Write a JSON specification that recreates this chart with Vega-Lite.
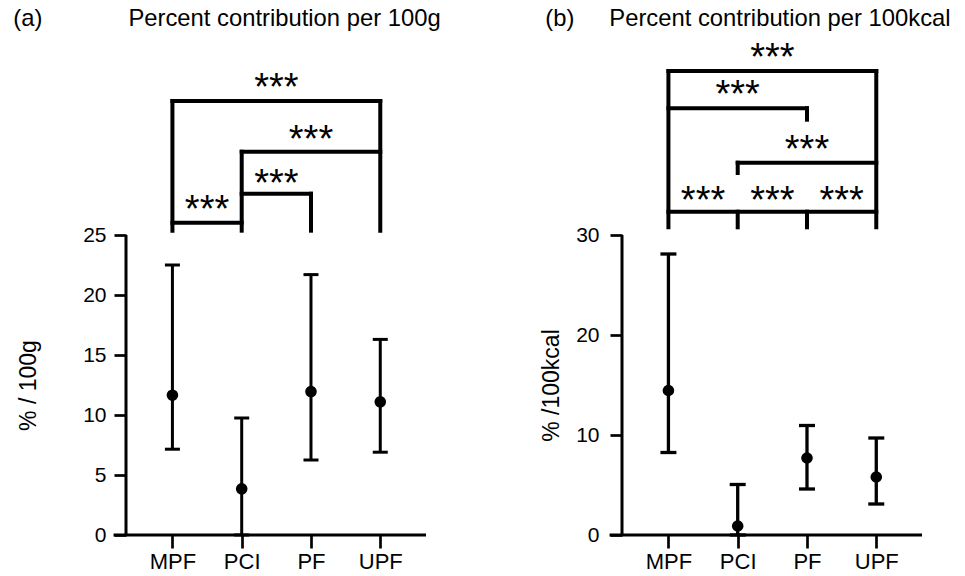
{
  "$schema": "https://vega.github.io/schema/vega-lite/v6.json",
  "padding": {"left": 13, "top": 6, "right": 5, "bottom": 5},
  "background": "white",
  "config": {
    "view": {"stroke": null},
    "font": "Liberation Sans",
    "axis": {"grid": false, "domain": false, "tickColor": "black", "tickWidth": 2.7, "tickOpacity": 1, "labelColor": "black", "labelFont": "Liberation Sans", "labelFontSize": 21, "titleColor": "black", "titleFont": "Liberation Sans", "titleFontSize": 23, "titleFontWeight": "normal"}
  },
  "datasets": {
    "a_err": [
      {"cat": "MPF", "x": 0, "mean": 11.65, "lo": 7.15, "hi": 22.5},
      {"cat": "PCI", "x": 1, "mean": 3.85, "lo": 0, "hi": 9.75},
      {"cat": "PF", "x": 2, "mean": 11.95, "lo": 6.25, "hi": 21.7},
      {"cat": "UPF", "x": 3, "mean": 11.1, "lo": 6.9, "hi": 16.3}
    ],
    "b_err": [
      {"cat": "MPF", "x": 0, "mean": 14.45, "lo": 8.25, "hi": 28.1},
      {"cat": "PCI", "x": 1, "mean": 0.9, "lo": 0, "hi": 5.05},
      {"cat": "PF", "x": 2, "mean": 7.7, "lo": 4.6, "hi": 10.95},
      {"cat": "UPF", "x": 3, "mean": 5.8, "lo": 3.1, "hi": 9.7}
    ],
    "a_br": [
      {"x": 0, "x2": 1, "y": 26.03, "y2": 26.03},
      {"x": 0, "x2": 0, "y": 25.36, "y2": 36.17},
      {"x": 1, "x2": 1, "y": 25.36, "y2": 31.94},
      {"x": 1, "x2": 2, "y": 28.44, "y2": 28.44},
      {"x": 2, "x2": 2, "y": 25.36, "y2": 28.44},
      {"x": 1, "x2": 3, "y": 31.94, "y2": 31.94},
      {"x": 3, "x2": 3, "y": 25.36, "y2": 36.17},
      {"x": 0, "x2": 3, "y": 36.17, "y2": 36.17}
    ],
    "b_br": [
      {"x": 0, "x2": 3, "y": 32.33, "y2": 32.33},
      {"x": 0, "x2": 0, "y": 30.77, "y2": 46.4},
      {"x": 1, "x2": 1, "y": 30.77, "y2": 32.33},
      {"x": 2, "x2": 2, "y": 30.77, "y2": 32.33},
      {"x": 3, "x2": 3, "y": 30.77, "y2": 46.4},
      {"x": 1, "x2": 1, "y": 36.2, "y2": 37.23},
      {"x": 1, "x2": 3, "y": 37.23, "y2": 37.23},
      {"x": 2, "x2": 2, "y": 41.53, "y2": 42.67},
      {"x": 0, "x2": 2, "y": 42.67, "y2": 42.67},
      {"x": 0, "x2": 3, "y": 46.4, "y2": 46.4}
    ],
    "a_axes": [
      {"x": -0.67, "x2": -0.67, "y": 0, "y2": 25},
      {"x": -0.85, "x2": 3.66, "y": 0, "y2": 0}
    ],
    "b_axes": [
      {"x": -0.67, "x2": -0.67, "y": 0, "y2": 30},
      {"x": -0.85, "x2": 3.66, "y": 0, "y2": 0}
    ],
    "a_stars": [
      {"x": 0.5, "y": 27.56, "label": "***"},
      {"x": 1.5, "y": 29.78, "label": "***"},
      {"x": 2, "y": 33.44, "label": "***"},
      {"x": 1.5, "y": 37.75, "label": "***"}
    ],
    "b_stars": [
      {"x": 0.5, "y": 34.0, "label": "***"},
      {"x": 1.5, "y": 34.0, "label": "***"},
      {"x": 2.5, "y": 34.0, "label": "***"},
      {"x": 2, "y": 39.07, "label": "***"},
      {"x": 1, "y": 44.57, "label": "***"},
      {"x": 1.5, "y": 48.33, "label": "***"}
    ],
    "a_titles": [
      {"x": -2.087, "y": 42.42, "label": "(a)"},
      {"x": 1.618, "y": 42.42, "label": "Percent contribution per 100g"}
    ],
    "b_titles": [
      {"x": -1.568, "y": 50.9, "label": "(b)"},
      {"x": 1.61, "y": 50.9, "label": "Percent contribution per 100kcal"}
    ]
  },
  "hconcat": [
    {
      "width": 300,
      "height": 500,
      "layer": [
        {
          "data": {"name": "a_br"},
          "mark": {"type": "rule", "color": "black", "strokeWidth": 4, "strokeCap": "square"},
          "encoding": {
            "x": {"field": "x", "type": "quantitative", "scale": {"domain": [-0.67, 3.66], "nice": false, "zero": false},
              "axis": {"values": [0, 1, 2, 3], "labelExpr": "['MPF','PCI','PF','UPF'][datum.value]", "tickSize": 13, "labelPadding": 3, "labelFontSize": 22, "title": null}},
            "x2": {"field": "x2"},
            "y": {"field": "y", "type": "quantitative", "scale": {"domain": [0, 41.667], "nice": false, "zero": false},
              "axis": {"values": [0, 5, 10, 15, 20, 25], "tickSize": 12, "labelPadding": 8, "title": "% / 100g", "titlePadding": 42, "titleY": 350}},
            "y2": {"field": "y2"}
          }
        },
        {
          "data": {"name": "a_axes"},
          "mark": {"type": "rule", "color": "black", "strokeWidth": 3},
          "encoding": {
            "x": {"field": "x", "type": "quantitative"},
            "x2": {"field": "x2"},
            "y": {"field": "y", "type": "quantitative"},
            "y2": {"field": "y2"}
          }
        },
        {
          "data": {"name": "a_err"},
          "mark": {"type": "rule", "color": "black", "strokeWidth": 3},
          "encoding": {
            "x": {"field": "x", "type": "quantitative"},
            "y": {"field": "lo", "type": "quantitative"},
            "y2": {"field": "hi"}
          }
        },
        {
          "data": {"name": "a_err"},
          "mark": {"type": "tick", "color": "black", "opacity": 1, "orient": "horizontal", "size": 15, "thickness": 3},
          "encoding": {
            "x": {"field": "x", "type": "quantitative"},
            "y": {"field": "lo", "type": "quantitative"}
          }
        },
        {
          "data": {"name": "a_err"},
          "mark": {"type": "tick", "color": "black", "opacity": 1, "orient": "horizontal", "size": 15, "thickness": 3},
          "encoding": {
            "x": {"field": "x", "type": "quantitative"},
            "y": {"field": "hi", "type": "quantitative"}
          }
        },
        {
          "data": {"name": "a_err"},
          "mark": {"type": "point", "filled": true, "color": "black", "size": 135, "opacity": 1},
          "encoding": {
            "x": {"field": "x", "type": "quantitative"},
            "y": {"field": "mean", "type": "quantitative"}
          }
        },
        {
          "data": {"name": "a_stars"},
          "mark": {"type": "text", "fontSize": 38, "font": "Liberation Sans", "align": "center", "baseline": "middle", "dy": 7, "color": "black"},
          "encoding": {
            "x": {"field": "x", "type": "quantitative"},
            "y": {"field": "y", "type": "quantitative"},
            "text": {"field": "label"}
          }
        },
        {
          "data": {"name": "a_titles"},
          "mark": {"type": "text", "fontSize": 23.8, "font": "Liberation Sans", "align": "center", "baseline": "alphabetic", "color": "black"},
          "encoding": {
            "x": {"field": "x", "type": "quantitative"},
            "y": {"field": "y", "type": "quantitative"},
            "text": {"field": "label"}
          }
        }
      ]
    },
    {
      "width": 300,
      "height": 500,
      "layer": [
        {
          "data": {"name": "b_br"},
          "mark": {"type": "rule", "color": "black", "strokeWidth": 4, "strokeCap": "square"},
          "encoding": {
            "x": {"field": "x", "type": "quantitative", "scale": {"domain": [-0.67, 3.66], "nice": false, "zero": false},
              "axis": {"values": [0, 1, 2, 3], "labelExpr": "['MPF','PCI','PF','UPF'][datum.value]", "tickSize": 13, "labelPadding": 3, "labelFontSize": 22, "title": null}},
            "x2": {"field": "x2"},
            "y": {"field": "y", "type": "quantitative", "scale": {"domain": [0, 50], "nice": false, "zero": false},
              "axis": {"values": [0, 10, 20, 30], "tickSize": 12, "labelPadding": 11, "title": "% /100kcal", "titlePadding": 12, "titleY": 350}},
            "y2": {"field": "y2"}
          }
        },
        {
          "data": {"name": "b_axes"},
          "mark": {"type": "rule", "color": "black", "strokeWidth": 3},
          "encoding": {
            "x": {"field": "x", "type": "quantitative"},
            "x2": {"field": "x2"},
            "y": {"field": "y", "type": "quantitative"},
            "y2": {"field": "y2"}
          }
        },
        {
          "data": {"name": "b_err"},
          "mark": {"type": "rule", "color": "black", "strokeWidth": 3.3},
          "encoding": {
            "x": {"field": "x", "type": "quantitative"},
            "y": {"field": "lo", "type": "quantitative"},
            "y2": {"field": "hi"}
          }
        },
        {
          "data": {"name": "b_err"},
          "mark": {"type": "tick", "color": "black", "opacity": 1, "orient": "horizontal", "size": 16, "thickness": 3.3},
          "encoding": {
            "x": {"field": "x", "type": "quantitative"},
            "y": {"field": "lo", "type": "quantitative"}
          }
        },
        {
          "data": {"name": "b_err"},
          "mark": {"type": "tick", "color": "black", "opacity": 1, "orient": "horizontal", "size": 16, "thickness": 3.3},
          "encoding": {
            "x": {"field": "x", "type": "quantitative"},
            "y": {"field": "hi", "type": "quantitative"}
          }
        },
        {
          "data": {"name": "b_err"},
          "mark": {"type": "point", "filled": true, "color": "black", "size": 135, "opacity": 1},
          "encoding": {
            "x": {"field": "x", "type": "quantitative"},
            "y": {"field": "mean", "type": "quantitative"}
          }
        },
        {
          "data": {"name": "b_stars"},
          "mark": {"type": "text", "fontSize": 38, "font": "Liberation Sans", "align": "center", "baseline": "middle", "dy": 7, "color": "black"},
          "encoding": {
            "x": {"field": "x", "type": "quantitative"},
            "y": {"field": "y", "type": "quantitative"},
            "text": {"field": "label"}
          }
        },
        {
          "data": {"name": "b_titles"},
          "mark": {"type": "text", "fontSize": 23.8, "font": "Liberation Sans", "align": "center", "baseline": "alphabetic", "color": "black"},
          "encoding": {
            "x": {"field": "x", "type": "quantitative"},
            "y": {"field": "y", "type": "quantitative"},
            "text": {"field": "label"}
          }
        }
      ]
    }
  ],
  "spacing": 196,
  "bounds": "flush"
}
